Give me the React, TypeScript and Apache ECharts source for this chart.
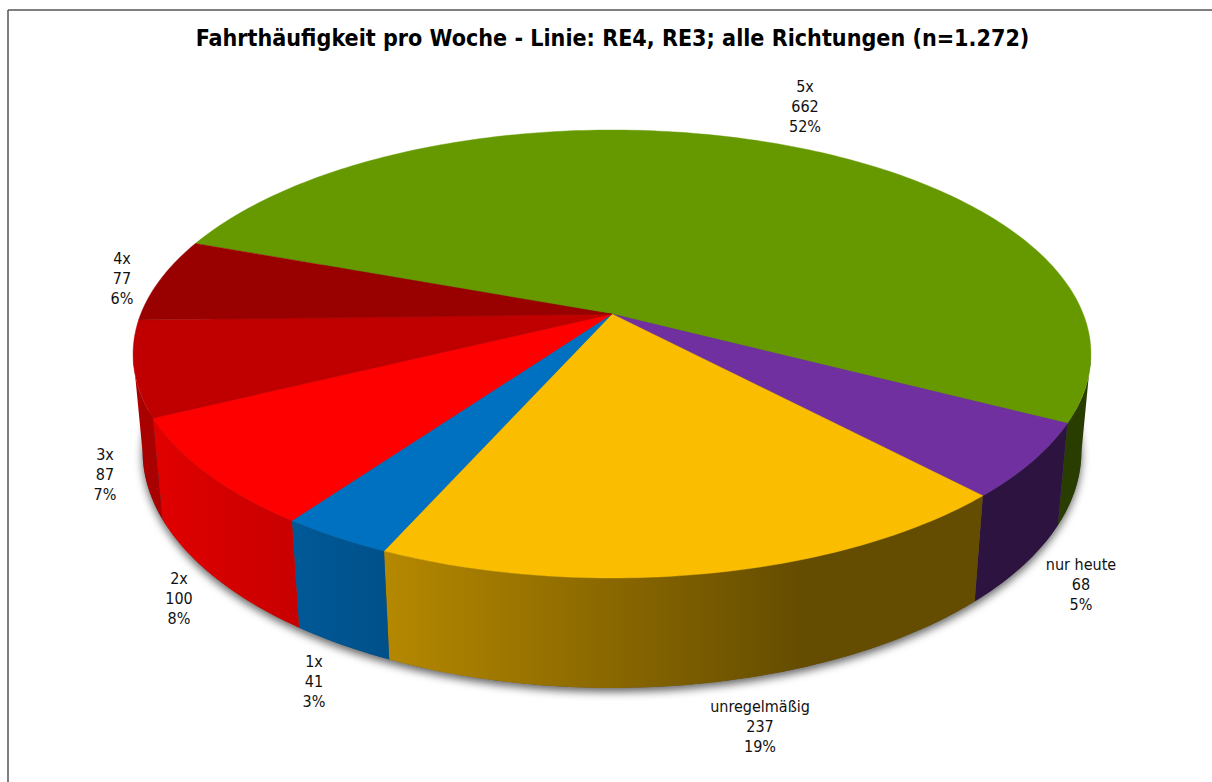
import React, { useEffect, useRef } from "react";
import * as echarts from "echarts";

const titleText = "Fahrthäufigkeit pro Woche - Linie: RE4, RE3; alle Richtungen (n=1.272)";
const categories = ["5x", "nur heute", "unregelmäßig", "1x", "2x", "3x", "4x"];
const values = [662, 68, 237, 41, 100, 87, 77];
const topColors = ["#669900", "#7030A0", "#FBBD00", "#0070C0", "#FF0000", "#C00000", "#990000"];
const labelCenters = [[805, 106], [1081, 584], [760, 726], [314, 681], [179, 598], [105, 474], [122, 278]];

const START_ANGLE = 290.2;
const FONT = "'DejaVu Sans Condensed', 'DejaVu Sans', sans-serif";
const total = values.reduce((a, b) => a + b, 0);

// perspective projection of the disc
const CX = 612, CY = 314, F = 2639, G = 1214.4, D = 5.6, M = 0.11, K = 547;
const rad = (a: number) => (a * Math.PI) / 180;
function project(angle: number, depth: number, r = 1) {
  const X = r * Math.sin(rad(angle));
  const Y = r * Math.cos(rad(angle));
  const w = D + Y + M * depth;
  return [CX + (F * X) / w, CY + (-G * Y + K * depth) / w];
}
function sliceRange(i: number) {
  let start = START_ANGLE;
  for (let k = 0; k < i; k++) start += (values[k] / total) * 360;
  return [start, start + (values[i] / total) * 360];
}
function samples(a0: number, a1: number) {
  const out: number[] = [];
  const n = Math.max(2, Math.ceil((a1 - a0) / 1));
  for (let i = 0; i <= n; i++) out.push(a0 + ((a1 - a0) * i) / n);
  return out;
}
// only the part of the wall that faces the camera: between the two silhouette generators
const SILHOUETTE = (Math.acos(-1 / D) * 180) / Math.PI;
function visibleArc(i: number): number[] {
  const [a0, a1] = sliceRange(i);
  const lo = SILHOUETTE, hi = 360 - SILHOUETTE;
  for (const shift of [0, 360]) {
    const s = Math.max(a0, lo + shift);
    const e = Math.min(a1, hi + shift);
    if (e > s) return samples(s, e);
  }
  return [];
}
function rgb(hex: string) {
  return [1, 3, 5].map((p) => parseInt(hex.slice(p, p + 2), 16));
}
function scaled(hex: string, f: number) {
  const [r, g, b] = rgb(hex);
  return `rgb(${Math.round(r * f)},${Math.round(g * f)},${Math.round(b * f)})`;
}
function mixed(hex: string, t: number) {
  const [r, g, b] = rgb(hex);
  const m = (c: number) => Math.round(c + (255 - c) * t);
  return `rgb(${m(r)},${m(g)},${m(b)})`;
}

const renderShadow = (params: any) => {
  if (params.dataIndex !== 0) return null;
  const pts = samples(0, 360).map((a) => project(a, 1));
  return {
    type: "polygon",
    shape: { points: pts },
    style: {
      fill: "#555",
      shadowBlur: 9,
      shadowColor: "rgba(0,0,0,0.6)",
      shadowOffsetX: 0,
      shadowOffsetY: 4,
    },
  };
};

const renderWall = (params: any) => {
  const i = params.dataIndex;
  const arc = visibleArc(i);
  if (!arc.length) return null;
  const pts = [...arc.map((a) => project(a, 0)), ...arc.slice().reverse().map((a) => project(a, 1))];
  const c = topColors[i];
  const fill = new echarts.graphic.LinearGradient(
    160, 0, 805, 0,
    [
      { offset: 0, color: scaled(c, 0.88) },
      { offset: 0.35, color: scaled(c, 0.72) },
      { offset: 1, color: scaled(c, 0.4) },
    ],
    true
  );
  return { type: "polygon", shape: { points: pts }, style: { fill } };
};

const renderTop = (params: any) => {
  const i = params.dataIndex;
  const [a0, a1] = sliceRange(i);
  const rim = samples(a0, a1).map((a) => project(a, 0));
  const children: any[] = [
    {
      type: "polygon",
      shape: { points: [[CX, CY], ...rim] },
      style: { fill: topColors[i], stroke: topColors[i], lineWidth: 0.4 },
    },
  ];
  const lit = samples(Math.max(a0, 180), Math.min(a1, 262));
  if (a1 > 180 && a0 < 262) {
    children.push({
      type: "polyline",
      shape: { points: lit.map((a) => project(a, 0)) },
      style: { fill: "none", stroke: mixed(topColors[i], 0.3), lineWidth: 1 },
    });
  }
  return { type: "group", children };
};

const renderLabel = (params: any) => {
  const i = params.dataIndex;
  const pct = Math.round((values[i] / total) * 100);
  return {
    type: "text",
    style: {
      text: `${categories[i]}\n${values[i]}\n${pct}%`,
      x: labelCenters[i][0],
      y: labelCenters[i][1],
      align: "center",
      verticalAlign: "middle",
      fontFamily: FONT,
      fontSize: 16,
      lineHeight: 20,
      fill: "#111",
    },
  };
};

export default function App() {
  const ref = useRef<HTMLDivElement>(null);
  useEffect(() => {
    document.body.style.margin = "0";
    const chart = echarts.init(ref.current!, undefined, { renderer: "svg" });
    const data = values.map((v, i) => ({ name: categories[i], value: v }));
    const custom = (renderItem: any, z: number) => ({
      type: "custom",
      coordinateSystem: "none",
      renderItem,
      data,
      z,
      silent: true,
    });
    chart.setOption({
      animation: false,
      backgroundColor: "#fff",
      title: {
        text: titleText,
        left: 607.5,
        top: 21,
        textAlign: "center",
        textStyle: { fontFamily: FONT, fontWeight: "bold", fontSize: 23.1, color: "#000" },
      },
      graphic: [
        { type: "line", shape: { x1: 8, y1: 10, x2: 1212, y2: 10 }, style: { stroke: "#555", lineWidth: 1.5 } },
        { type: "line", shape: { x1: 8, y1: 10, x2: 8, y2: 782 }, style: { stroke: "#555", lineWidth: 1.5 } },
      ],
      series: [custom(renderShadow, 1), custom(renderWall, 2), custom(renderTop, 3), custom(renderLabel, 4)],
    });
    return () => chart.dispose();
  }, []);
  return <div ref={ref} style={{ width: 1212, height: 782 }} />;
}
